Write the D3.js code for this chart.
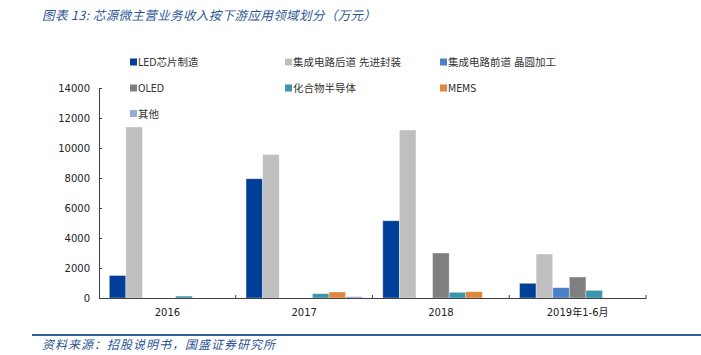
<!DOCTYPE html>
<html><head><meta charset="utf-8">
<script src="https://cdn.jsdelivr.net/npm/d3@7"></script>
<style>
html,body{margin:0;padding:0;background:#fff;}
svg{display:block;}
</style></head>
<body>
<svg id="chart" width="701" height="355"></svg>
<script>
const categories = ["2016", "2017", "2018", "2019年1-6月"];
const seriesNames = ["LED芯片制造", "集成电路后道 先进封装", "集成电路前道 晶圆加工", "OLED", "化合物半导体", "MEMS", "其他"];
const ledValues = [1500, 7950, 5150, 980];
const backendValues = [11400, 9570, 11200, 2930];
const frontendValues = [0, 0, 0, 690];
const oledValues = [0, 0, 3000, 1400];
const compoundValues = [130, 290, 380, 510];
const memsValues = [0, 400, 420, 0];
const otherValues = [0, 100, 0, 0];
const yTicks = [0, 2000, 4000, 6000, 8000, 10000, 12000, 14000];
const colors = ["#003f97", "#bfbfbf", "#4a80c8", "#7f7f7f", "#3b96ad", "#e0863e", "#93add6"];
const seriesValues = [ledValues, backendValues, frontendValues, oledValues, compoundValues, memsValues, otherValues];

(function () {
const svg = d3.select("#chart");
const pLeft = 99, pRight = 646, pTop = 88, pBottom = 298;

const x0 = d3.scaleBand().domain(categories).range([pLeft, pRight]).padding(0);
const x1 = d3.scaleBand().domain(seriesNames).range([0, x0.bandwidth()]).paddingInner(0).paddingOuter(0.62);
const y = d3.scaleLinear().domain([0, 14000]).range([pBottom, pTop]);

// Title
svg.append("text").attr("x", 42).attr("y", 20)
  .attr("font-family", "'Noto Sans CJK SC', sans-serif").attr("font-size", 12.5)
  .attr("font-style", "italic").attr("fill", "#2a5593")
  .attr("textLength", 334).attr("lengthAdjust", "spacing")
  .text("图表 13:  芯源微主营业务收入按下游应用领域划分（万元）");

// Bars
const g = svg.append("g");
seriesValues.forEach((vals, si) => {
  g.selectAll(null).data(vals.map((v, ci) => ({v, c: categories[ci]})).filter(d => d.v > 0))
    .enter().append("rect")
    .attr("x", d => x0(d.c) + x1(seriesNames[si]))
    .attr("y", d => y(d.v))
    .attr("width", x1.bandwidth())
    .attr("height", d => y(0) - y(d.v))
    .attr("fill", colors[si])
    .attr("stroke", "rgba(255,255,255,0.45)").attr("stroke-width", 0.8);
});

// Y axis
const yAxis = d3.axisLeft(y).tickValues(yTicks).tickSize(-3).tickPadding(9).tickFormat(d3.format("d"));
const ya = svg.append("g").attr("transform", `translate(${pLeft},0)`).call(yAxis);
ya.select(".domain").attr("stroke", "#404040");
ya.selectAll(".tick line").attr("stroke", "#404040");
ya.selectAll("text").attr("font-family", "'DejaVu Sans', sans-serif").attr("font-size", 10).attr("fill", "#222");

// X axis
const xa = svg.append("g").attr("transform", `translate(0,${pBottom})`)
  .call(d3.axisBottom(x0).tickSize(0).tickPadding(11));
xa.select(".domain").attr("stroke", "#404040");
xa.selectAll("text").attr("font-family", "'DejaVu Sans', 'Noto Sans CJK SC', sans-serif").attr("font-size", 10).attr("fill", "#222");
const bounds = categories.map(c => x0(c) + x0.bandwidth());
xa.selectAll(".bt").data(bounds).enter().append("line")
  .attr("x1", d => d).attr("x2", d => d).attr("y1", 0).attr("y2", -3).attr("stroke", "#404040");

// Legend
const legPos = [[130, 62], [285, 62], [440, 62], [130, 88], [285, 88], [440, 88], [130, 113.5]];
const leg = svg.append("g");
seriesNames.forEach((n, i) => {
  const [lx, ly] = legPos[i];
  leg.append("rect").attr("x", lx).attr("y", ly - 3.5).attr("width", 7).attr("height", 7).attr("fill", colors[i]);
  leg.append("text").attr("x", lx + 8).attr("y", ly + 4)
    .attr("font-family", "'DejaVu Sans Condensed', 'Noto Sans CJK SC', sans-serif").attr("font-size", 10.5)
    .attr("fill", "#333").text(n);
});

// Footer
svg.append("line").attr("x1", 32).attr("x2", 701).attr("y1", 335).attr("y2", 335)
  .attr("stroke", "#2f5f9e").attr("stroke-width", 2);
svg.append("text").attr("x", 42).attr("y", 349)
  .attr("font-family", "'Noto Sans CJK SC', sans-serif").attr("font-size", 12)
  .attr("font-style", "italic").attr("fill", "#2a5593")
  .attr("textLength", 233).attr("lengthAdjust", "spacing")
  .text("资料来源：招股说明书，国盛证券研究所");
})();
</script>
</body></html>
